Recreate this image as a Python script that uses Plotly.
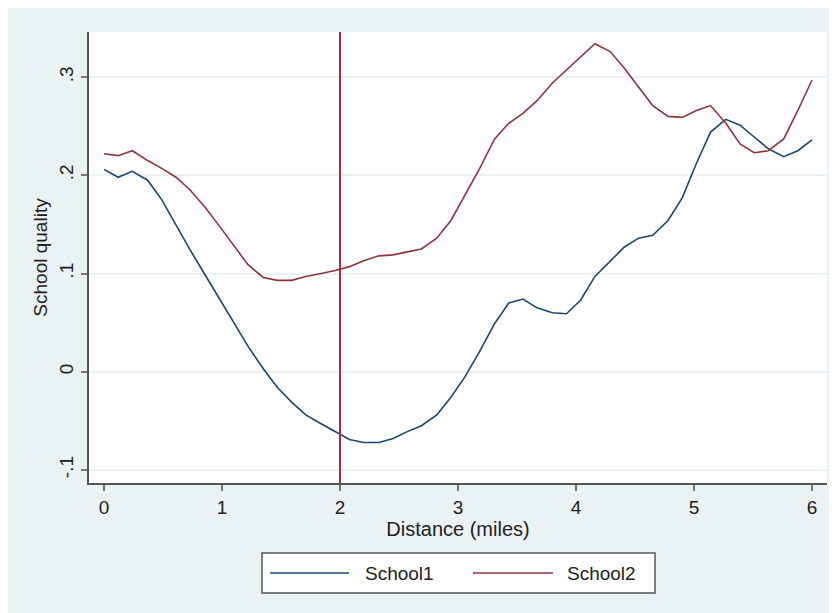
import plotly.graph_objects as go

# ---- data ----
distance = [0.00, 0.12, 0.24, 0.37, 0.49, 0.61, 0.73, 0.86, 0.98, 1.10,
            1.22, 1.35, 1.47, 1.59, 1.71, 1.84, 1.96, 2.08, 2.20, 2.33,
            2.45, 2.57, 2.69, 2.82, 2.94, 3.06, 3.18, 3.31, 3.43, 3.55,
            3.67, 3.80, 3.92, 4.04, 4.16, 4.29, 4.41, 4.53, 4.65, 4.78,
            4.90, 5.02, 5.14, 5.27, 5.39, 5.51, 5.63, 5.76, 5.88, 6.00]

school1 = [0.206, 0.198, 0.204, 0.195, 0.175, 0.149, 0.124, 0.098, 0.074, 0.051,
           0.026, 0.003, -0.016, -0.031, -0.044, -0.053, -0.061, -0.069, -0.072, -0.072,
           -0.068, -0.061, -0.055, -0.044, -0.026, -0.005, 0.020, 0.049, 0.070, 0.074,
           0.065, 0.060, 0.059, 0.073, 0.097, 0.113, 0.127, 0.136, 0.139, 0.154,
           0.177, 0.212, 0.244, 0.257, 0.251, 0.239, 0.227, 0.219, 0.225, 0.236]

school2 = [0.222, 0.220, 0.225, 0.215, 0.207, 0.198, 0.185, 0.167, 0.148, 0.129,
           0.109, 0.096, 0.093, 0.093, 0.097, 0.100, 0.103, 0.107, 0.113, 0.118,
           0.119, 0.122, 0.125, 0.136, 0.154, 0.180, 0.206, 0.237, 0.253, 0.263,
           0.276, 0.294, 0.307, 0.320, 0.334, 0.326, 0.309, 0.290, 0.271, 0.260,
           0.259, 0.266, 0.271, 0.253, 0.232, 0.223, 0.225, 0.237, 0.266, 0.297]

series_names = ["School1", "School2"]
cutoff_distance = 2

x_tickvals = [0, 1, 2, 3, 4, 5, 6]
x_ticktext = ["0", "1", "2", "3", "4", "5", "6"]
y_tickvals = [-0.1, 0, 0.1, 0.2, 0.3]
y_ticktext = ["-.1", "0", ".1", ".2", ".3"]

# ---- style ----
W, H = 837, 613
OFF = 8  # page body margin
L, R, T, B = 81, 18, 24, 138
colors = ["#1a476f", "#90353b"]
vline_color = "#b02550"
bg = "#eaf2f3"
FONT = "Liberation Sans"

pw = W - L - R
ph = H - T - B


def px_x(p):
    return (p - OFF - L) / pw


def px_y(p):
    return (H - B - (p - OFF)) / ph


fig = go.Figure()
for name, ys, c in zip(series_names, [school1, school2], colors):
    fig.add_trace(go.Scatter(x=distance, y=ys, mode="lines", name=name,
                             line=dict(color=c, width=1.6), showlegend=False))

fig.add_vline(x=cutoff_distance, line=dict(color=vline_color, width=2))

shapes = []
# legend box
shapes.append(dict(type="rect", xref="paper", yref="paper",
                   x0=px_x(262), x1=px_x(655), y0=px_y(593), y1=px_y(553),
                   fillcolor="white", line=dict(color="#555555", width=1.5)))
leg_y = 573
samples = [(270, 349, 363), (473, 553, 565)]
annotations = []
for (sx0, sx1, tx), name, c in zip(samples, series_names, colors):
    shapes.append(dict(type="line", xref="paper", yref="paper",
                       x0=px_x(sx0), x1=px_x(sx1), y0=px_y(leg_y), y1=px_y(leg_y),
                       line=dict(color=c, width=1.6)))
    annotations.append(dict(text=name, xref="paper", yref="paper",
                            x=px_x(tx), y=px_y(leg_y), xanchor="left", yanchor="middle",
                            showarrow=False, font=dict(family=FONT, size=19, color="#222222")))

fig.update_layout(
    width=W, height=H,
    margin=dict(l=L, r=R, t=T, b=B),
    paper_bgcolor=bg, plot_bgcolor="white",
    font=dict(family=FONT, size=19, color="#222222"),
    shapes=fig.layout.shapes + tuple(shapes),
    annotations=annotations,
    showlegend=False,
    xaxis=dict(range=[-0.127, 6.127], tickvals=x_tickvals, ticktext=x_ticktext,
               showgrid=False, zeroline=False, showline=True, linecolor="#555555",
               linewidth=2, ticks="outside", ticklen=6, tickwidth=1.5, tickcolor="#777777",
               tickfont=dict(size=19),
               title=dict(text="Distance (miles)", font=dict(size=20), standoff=2)),
    yaxis=dict(range=[-0.1133, 0.3459], tickvals=y_tickvals, ticktext=y_ticktext,
               showgrid=True, gridcolor=bg, gridwidth=1.5, zeroline=False,
               showline=True, linecolor="#555555", linewidth=2,
               ticks="outside", ticklen=6, tickwidth=1.5, tickcolor="#777777",
               tickangle=-90, tickfont=dict(size=19),
               title=dict(text="School quality", font=dict(size=19), standoff=4)),
)

fig.write_html("out.html")
